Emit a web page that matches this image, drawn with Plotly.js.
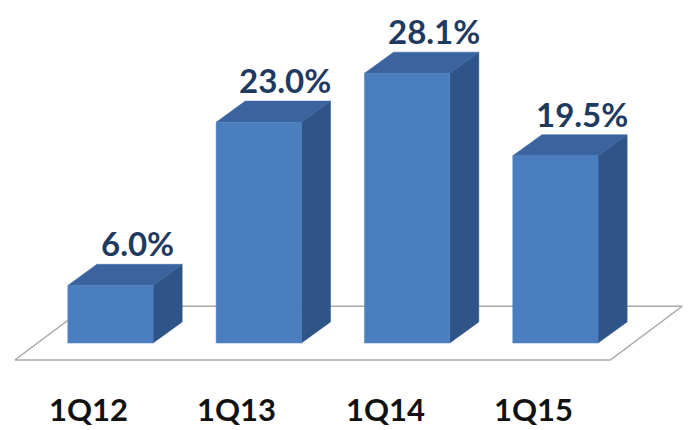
<!DOCTYPE html>
<html>
<head>
<meta charset="utf-8">
<script src="https://cdn.plot.ly/plotly-3.0.1.min.js"></script>
<style>
html,body{margin:0;padding:0;background:#fff;}
#chart{width:688px;height:430px;}
</style>
</head>
<body>
<div id="chart"></div>
<script>
// ---- data ----
var categories = ["1Q12", "1Q13", "1Q14", "1Q15"];
var values = [6.0, 23.0, 28.1, 19.5];
var valueLabels = ["6.0%", "23.0%", "28.1%", "19.5%"];

// ---- style / geometry (in axis units) ----
var barW = 0.575;      // front face width (category units)
var depthX = 0.196;    // 3D depth offset along x
var depthY = 2.2;      // 3D depth offset along y (value units)
var frontColor = "#4A7EBE";
var topColor = "#3B649F";
var sideColor = "#2F5488";
var textColor = "#1F3A60";
var fontFam = "Lato, 'Open Sans', sans-serif";

var traces = [];

// floor (parallelogram)
var n = categories.length;
var fl = -0.645, fr = n - 1 + 0.37;    // front edge x extents
var fy = -1.77;                           // front edge y
var fdx = 0.485, fdy = 5.6;               // floor depth offsets
traces.push({
  type: "scatter", mode: "lines", fill: "toself", fillcolor: "#ffffff",
  line: {color: "#a8a8a8", width: 1.5},
  x: [fl, fr, fr + fdx, fl + fdx, fl],
  y: [fy, fy, fy + fdy, fy + fdy, fy],
  hoverinfo: "skip"
});

function face(xs, ys, color) {
  traces.push({
    type: "scatter", mode: "lines", fill: "toself", fillcolor: color,
    line: {color: color, width: 0.5},
    x: xs, y: ys, hoverinfo: "skip"
  });
}

values.forEach(function (v, i) {
  var l = i - barW / 2, r = i + barW / 2;
  // side face
  face([r, r + depthX, r + depthX, r, r], [0, depthY, v + depthY, v, 0], sideColor);
  // top face
  face([l, r, r + depthX, l + depthX, l], [v, v, v + depthY, v + depthY, v], topColor);
  // front face
  face([l, r, r, l, l], [0, 0, v, v, 0], frontColor);
});

var annotations = [];
values.forEach(function (v, i) {
  annotations.push({
    x: i + 0.18, y: v + 4.4, xref: "x", yref: "y",
    text: "<b>" + valueLabels[i] + "</b>", showarrow: false,
    xanchor: "center", yanchor: "middle",
    font: {family: fontFam, size: 33, color: textColor}
  });
  annotations.push({
    x: i - 0.148, y: -6.9, xref: "x", yref: "y",
    text: "<b>" + categories[i] + "</b>", showarrow: false,
    xanchor: "center", yanchor: "middle",
    font: {family: fontFam, size: 31, color: "#111111"}
  });
});

var layout = {
  width: 688, height: 430,
  margin: {l: 0, r: 0, t: 0, b: 0},
  paper_bgcolor: "#ffffff", plot_bgcolor: "#ffffff",
  showlegend: false, hovermode: false,
  xaxis: {range: [-0.745, 3.894], visible: false, fixedrange: true},
  yaxis: {range: [-9.06, 35.73], visible: false, fixedrange: true},
  annotations: annotations
};

Plotly.newPlot("chart", traces, layout, {staticPlot: true, displayModeBar: false});
</script>
</body>
</html>
